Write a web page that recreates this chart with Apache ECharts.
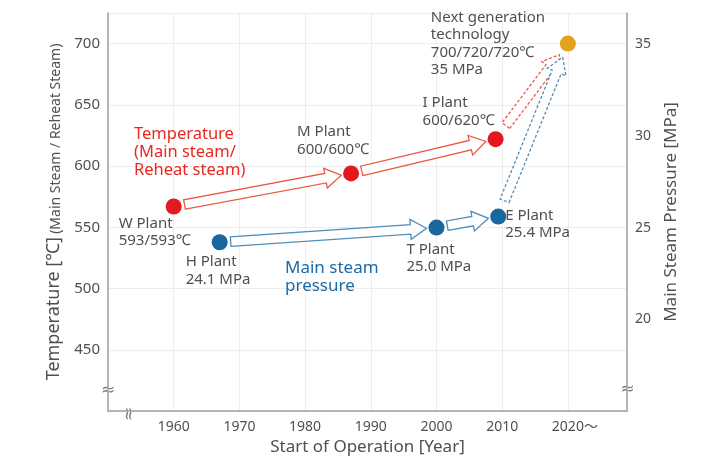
<!DOCTYPE html>
<html>
<head>
<meta charset="utf-8">
<script src="https://cdn.jsdelivr.net/npm/echarts@6/dist/echarts.min.js"></script>
<style>
  html, body { margin: 0; padding: 0; background: #fff; }
  #chart { width: 722px; height: 461px; }
</style>
</head>
<body>
<div id="chart"></div>
<script>
// tick labels
const yearTicks = [1960, 1970, 1980, 1990, 2000, 2010, 2020];
const tempTicks = [450, 500, 550, 600, 650, 700];
const pressTicks = [20, 25, 30, 35];

// temperature (main / reheat steam) plants
const tempPlants = ['W Plant', 'M Plant', 'I Plant'];
const tempYears = [1960, 1987, 2009];
const tempValues = [567, 594, 622];
const tempLabels = ['593/593℃', '600/600℃', '600/620℃'];

// main steam pressure plants
const pressPlants = ['H Plant', 'T Plant', 'E Plant'];
const pressYears = [1967, 2000, 2009.4];
const pressValues = [24.2, 25.0, 25.6];
const pressLabels = ['24.1 MPa', '25.0 MPa', '25.4 MPa'];

// next generation
const nextYear = 2020;
const nextTemp = 700;
const nextPress = 35;
const nextLines = ['Next generation', 'technology', '700/720/720℃', '35 MPa'];

const FONT = '"Noto Sans", "Noto Sans CJK JP", sans-serif';
const RED = '#e2191f';
const BLUE = '#18679f';
const ORANGE = '#e4a11d';
const TEXT = '#505050';

// label offsets (from the dot's box corner)
const tempLabelPos = [[-47, 16], [-46, -42], [-65, -37]];
const pressLabelPos = [[-26, 19], [-22, 21], [15, -2]];

function segments (xs, ys) {
    const out = [];
    for (let i = 0; i < xs.length - 1; i++) {
        out.push([xs[i], ys[i], xs[i + 1], ys[i + 1]]);
    }
    return out;
}

function arrowItem (color, dashed) {
    const g0 = dashed ? 17 : 11;
    const g1 = dashed ? 14 : 10;
    return function (params, api) {
        const a = api.coord([api.value(0), api.value(1)]);
        const b = api.coord([api.value(2), api.value(3)]);
        const dx = b[0] - a[0], dy = b[1] - a[1];
        const len = Math.sqrt(dx * dx + dy * dy);
        const ux = dx / len, uy = dy / len, nx = -uy, ny = ux;
        const s = [a[0] + ux * g0, a[1] + uy * g0];
        const t = [b[0] - ux * g1, b[1] - uy * g1];
        const w = 4.8, h = 10, L = 16;
        const c = [t[0] - ux * L, t[1] - uy * L];
        const pts = [
            [s[0] + nx * w, s[1] + ny * w],
            [c[0] + nx * w, c[1] + ny * w],
            [c[0] + nx * h, c[1] + ny * h],
            t,
            [c[0] - nx * h, c[1] - ny * h],
            [c[0] - nx * w, c[1] - ny * w],
            [s[0] - nx * w, s[1] - ny * w]
        ];
        return {
            type: 'polygon',
            shape: { points: pts },
            style: { fill: '#fff', stroke: color, lineWidth: 1.3, lineDash: dashed ? [3, 2] : null }
        };
    };
}

function arrowSeries (data, yAxisIndex, color, dashed) {
    return {
        type: 'custom',
        yAxisIndex: yAxisIndex,
        renderItem: arrowItem(color, dashed),
        encode: { x: [0, 2], y: [1, 3] },
        data: data,
        z: 2,
        silent: true
    };
}

const labelBase = {
    show: true,
    align: 'left',
    verticalAlign: 'top',
    fontFamily: FONT,
    fontSize: 15,
    lineHeight: 17.5,
    color: TEXT
};

function breakMark (x, y, rot) {
    return {
        type: 'group',
        x: x, y: y,
        rotation: rot,
        children: [
            { type: 'rect', shape: { x: -5, y: -4, width: 10, height: 8 }, style: { fill: '#fff' } },
            { type: 'text', style: { text: '≈', x: 0, y: 0, align: 'center', verticalAlign: 'middle',
                fontSize: 17, fontFamily: 'DejaVu Sans', fill: '#777' } }
        ]
    };
}

const chart = echarts.init(document.getElementById('chart'));

const option = {
    animation: false,
    textStyle: { fontFamily: FONT },
    grid: { left: 108, right: 95, top: 13, bottom: 48 },
    xAxis: {
        type: 'value',
        min: 1950,
        max: 2029,
        interval: 10,
        name: 'Start of Operation [Year]',
        nameLocation: 'middle',
        nameGap: 28,
        nameTextStyle: { fontSize: 17, color: TEXT, fontFamily: FONT },
        axisLine: { show: true, lineStyle: { color: '#a0a0a0', width: 1.5 } },
        axisTick: { show: false },
        splitLine: { show: true, lineStyle: { color: '#ededed' } },
        axisLabel: {
            margin: 9,
            fontSize: 14,
            color: TEXT,
            formatter: function (v) {
                if (yearTicks.indexOf(v) < 0) return '';
                return v === 2020 ? '{y|2020}{t|～}' : String(v);
            },
            rich: {
                y: { fontSize: 14, color: TEXT, fontFamily: FONT, padding: [0, 0, 0, 14] },
                t: { fontSize: 14, color: TEXT, fontFamily: FONT }
            }
        }
    },
    yAxis: [
        {
            type: 'value',
            min: 400,
            max: 725,
            interval: 50,
            name: '{a|Temperature [℃]} {b|(Main Steam / Reheat Steam)}',
            nameLocation: 'middle',
            nameRotate: 90,
            nameGap: 40,
            nameTextStyle: {
                rich: {
                    a: { fontSize: 18, color: TEXT, fontFamily: FONT, verticalAlign: 'bottom', lineHeight: 22 },
                    b: { fontSize: 14, color: TEXT, fontFamily: FONT, verticalAlign: 'bottom', lineHeight: 22 }
                }
            },
            axisLine: { show: true, lineStyle: { color: '#a0a0a0', width: 1.5 } },
            axisTick: { show: false },
            splitLine: { show: true, lineStyle: { color: '#ededed' } },
            axisLabel: {
                margin: 8,
                fontSize: 15,
                color: TEXT,
                formatter: function (v) { return tempTicks.indexOf(v) < 0 ? '' : String(v); }
            }
        },
        {
            type: 'value',
            min: 15,
            max: 36.7,
            interval: 5,
            position: 'right',
            name: 'Main Steam Pressure [MPa]',
            nameLocation: 'middle',
            nameRotate: 90,
            nameGap: 36,
            nameTextStyle: { fontSize: 17, color: TEXT, fontFamily: FONT },
            axisLine: { show: true, lineStyle: { color: '#a0a0a0', width: 1.5 } },
            axisTick: { show: false },
            splitLine: { show: false },
            axisLabel: {
                margin: 8,
                fontSize: 14,
                color: TEXT,
                formatter: function (v) { return pressTicks.indexOf(v) < 0 ? '' : String(v); }
            }
        }
    ],
    graphic: [
        {
            type: 'text', left: 134, top: 125, z: 10,
            style: { text: 'Temperature\n(Main steam/\nReheat steam)', fontSize: 16.5, lineHeight: 18,
                fontFamily: FONT, fill: '#e8291f' }
        },
        {
            type: 'text', left: 285, top: 259, z: 10,
            style: { text: 'Main steam\npressure', fontSize: 17, lineHeight: 18,
                fontFamily: FONT, fill: '#1b6aa6' }
        },
        breakMark(108, 391, 0),
        breakMark(627.5, 390, 0),
        breakMark(130, 414, Math.PI / 2)
    ],
    series: [
        arrowSeries(segments(tempYears, tempValues), 0, '#ea5a44', false),
        arrowSeries([[tempYears[2], tempValues[2], nextYear, nextTemp]], 0, '#ea5a44', true),
        arrowSeries(segments(pressYears, pressValues), 1, '#4f8dbb', false),
        arrowSeries([[pressYears[2], pressValues[2], nextYear, nextPress]], 1, '#4f8dbb', true),
        {
            type: 'scatter',
            yAxisIndex: 0,
            symbolSize: 16,
            itemStyle: { color: RED, opacity: 1 },
            z: 5,
            data: tempPlants.map(function (n, i) {
                return {
                    name: n,
                    value: [tempYears[i], tempValues[i]],
                    label: Object.assign({}, labelBase, {
                        position: tempLabelPos[i],
                        formatter: n + '\n' + tempLabels[i]
                    })
                };
            })
        },
        {
            type: 'scatter',
            yAxisIndex: 1,
            symbolSize: 16,
            itemStyle: { color: BLUE, opacity: 1 },
            z: 5,
            data: pressPlants.map(function (n, i) {
                return {
                    name: n,
                    value: [pressYears[i], pressValues[i]],
                    label: Object.assign({}, labelBase, {
                        position: pressLabelPos[i],
                        formatter: n + '\n' + pressLabels[i]
                    })
                };
            })
        },
        {
            type: 'scatter',
            yAxisIndex: 0,
            symbolSize: 16,
            itemStyle: { color: ORANGE, opacity: 1 },
            z: 5,
            data: [{
                name: 'Next generation',
                value: [nextYear, nextTemp],
                label: Object.assign({}, labelBase, {
                    position: [-129, -27],
                    formatter: nextLines.join('\n')
                })
            }]
        }
    ]
};

chart.setOption(option);
</script>
</body>
</html>
